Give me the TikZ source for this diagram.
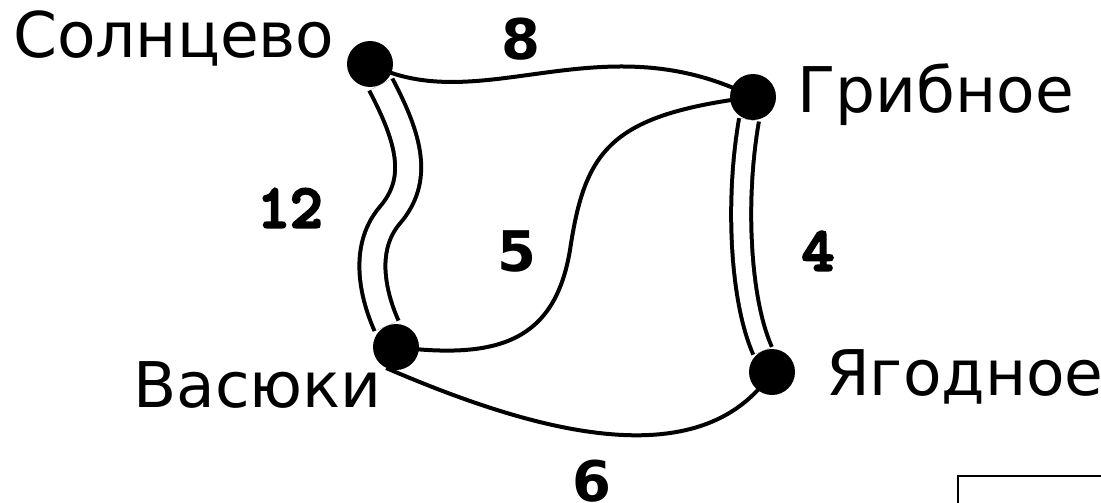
\documentclass[tikz,border=0pt]{standalone}
\usepackage{fontspec}
\setmainfont{DejaVu Sans}
\newfontfamily\monofont[Extension=.otf, FakeBold=4]{lmmonolt10-bold}
\usetikzlibrary{positioning,calc}
\pgfdeclarelayer{background}
\pgfsetlayers{background,main}

\begin{document}
\begin{tikzpicture}[
        x=1pt, y=-1pt,
        town/.style={circle, fill=black, inner sep=0pt, minimum size=46pt},
        townlbl/.style={anchor=base west, inner sep=0pt, font=\fontsize{63}{70}\selectfont},
        dist/.style={inner sep=0pt, font=\monofont\fontsize{62}{66}\selectfont},
        distsf/.style={inner sep=0pt, font=\bfseries\fontsize{56}{60}\selectfont},
        road/.style={line width=4pt, black},
        wide/.style={road, double=white, double distance=#1},
        wide/.default=22pt
      ]
        \useasboundingbox (0,0) rectangle (1101,503);
        \node[town] (sol) at (370,64) {};
        \node[town] (grib) at (753,97) {};
        \node[town] (vas) at (396,347) {};
        \node[town] (yag) at (772,372) {};
        \node[townlbl] (solname) at (13,58) {Солнцево};
        \node[townlbl] (gribname) at (797,113) {Грибное};
        \node[townlbl] (vasname) at (133,407) {Васюки};
        \node[townlbl] (yagname) at (826,395) {Ягодное};
        \node[distsf] (d8) at (521,39) {8};
        \node[dist] (d12) at (290,208) {12};
        \node[distsf] (d5) at (517,251) {5};
        \node[dist] (d4) at (818,251) {4};
        \node[distsf] (d6) at (592,481) {6};
        \begin{pgfonlayer}{background}
        \draw[road] (sol.center) .. controls (480,120) and (600,20) .. (grib.center);
        \draw[road] (grib.center) .. controls (610,115) and (585,150) .. (570,250)
          .. controls (555,340) and (500,360) .. (vas.center);
        \draw[road] (vas.-115) .. controls (530,430) and (700,480) .. (yag.center);
        \draw[wide] (sol) .. controls (410,140) and (420,180) .. (390,215)
          .. controls (360,250) and (375,300) .. (vas);
        \draw[wide=16pt] (grib) .. controls (735,200) and (740,300) .. (yag);
        \end{pgfonlayer}
        \draw[line width=2.5pt] (958,476) rectangle (1200,560);
      \end{tikzpicture}
\end{document}
